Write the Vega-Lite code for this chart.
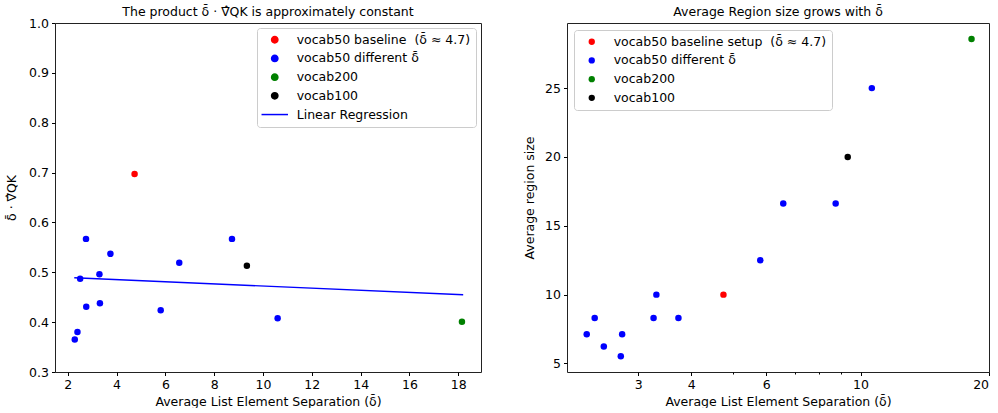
{
  "$schema": "https://vega.github.io/schema/vega-lite/v6.json",
  "padding": {"left": 5, "top": 5, "right": 0, "bottom": 0},
  "spacing": 86,
  "bounds": "flush",
  "config": {
    "font": "DejaVu Sans",
    "view": {"stroke": "#222", "strokeWidth": 1},
    "axis": {"domain": false, "grid": false, "tickColor": "#000", "tickSize": 3.5, "labelColor": "#000", "labelFontSize": 12.5, "titleFontSize": 12.5, "titleFontWeight": "normal", "titleColor": "#000", "labelPadding": 3},
    "title": {"fontSize": 12.5, "fontWeight": "normal", "color": "#000"},
    "legend": {"labelFontSize": 12.5, "labelColor": "#000", "labelLimit": 400, "strokeColor": "#ccc", "fillColor": "white", "cornerRadius": 3, "padding": 5.5, "rowPadding": 5.7, "symbolSize": 40, "symbolOffset": 6, "labelOffset": 15.7, "symbolStrokeWidth": 1.5}
  },
  "datasets": {
    "left": [
      {"x": 2.29, "y": 0.365, "group": "vocab50 different δ̄"},
      {"x": 2.40, "y": 0.380, "group": "vocab50 different δ̄"},
      {"x": 2.51, "y": 0.487, "group": "vocab50 different δ̄"},
      {"x": 2.75, "y": 0.567, "group": "vocab50 different δ̄"},
      {"x": 2.76, "y": 0.431, "group": "vocab50 different δ̄"},
      {"x": 3.30, "y": 0.496, "group": "vocab50 different δ̄"},
      {"x": 3.32, "y": 0.438, "group": "vocab50 different δ̄"},
      {"x": 3.75, "y": 0.537, "group": "vocab50 different δ̄"},
      {"x": 5.81, "y": 0.424, "group": "vocab50 different δ̄"},
      {"x": 6.57, "y": 0.519, "group": "vocab50 different δ̄"},
      {"x": 8.73, "y": 0.567, "group": "vocab50 different δ̄"},
      {"x": 10.6, "y": 0.408, "group": "vocab50 different δ̄"},
      {"x": 4.74, "y": 0.697, "group": "vocab50 baseline \u00a0(δ̄ ≈ 4.7)"},
      {"x": 9.34, "y": 0.513, "group": "vocab100"},
      {"x": 18.15, "y": 0.401, "group": "vocab200"}
    ],
    "regr": [
      {"x": 2.27, "y": 0.489, "group": "Linear Regression"},
      {"x": 18.2, "y": 0.455, "group": "Linear Regression"}
    ],
    "right": [
      {"x": 2.27, "y": 7.13, "group": "vocab50 different δ̄"},
      {"x": 2.37, "y": 8.31, "group": "vocab50 different δ̄"},
      {"x": 2.49, "y": 6.23, "group": "vocab50 different δ̄"},
      {"x": 2.73, "y": 5.53, "group": "vocab50 different δ̄"},
      {"x": 2.75, "y": 7.13, "group": "vocab50 different δ̄"},
      {"x": 3.26, "y": 8.31, "group": "vocab50 different δ̄"},
      {"x": 3.31, "y": 10.0, "group": "vocab50 different δ̄"},
      {"x": 3.73, "y": 8.31, "group": "vocab50 different δ̄"},
      {"x": 5.81, "y": 12.49, "group": "vocab50 different δ̄"},
      {"x": 6.58, "y": 16.62, "group": "vocab50 different δ̄"},
      {"x": 8.74, "y": 16.62, "group": "vocab50 different δ̄"},
      {"x": 10.63, "y": 25.0, "group": "vocab50 different δ̄"},
      {"x": 4.76, "y": 10.0, "group": "vocab50 baseline setup \u00a0(δ̄ ≈ 4.7)"},
      {"x": 9.33, "y": 20.0, "group": "vocab100"},
      {"x": 18.24, "y": 28.57, "group": "vocab200"}
    ]
  },
  "resolve": {"scale": {"fill": "independent", "stroke": "independent", "shape": "independent"}, "legend": {"fill": "independent", "stroke": "independent", "shape": "independent"}},
  "hconcat": [
    {
      "width": 426,
      "height": 349,
      "title": {"text": "The product δ̄ · ∇̂QK is approximately constant", "offset": -1},
      "encoding": {
        "x": {"field": "x", "type": "quantitative", "scale": {"domain": [1.48, 18.93], "nice": false, "zero": false}, "axis": {"values": [2, 4, 6, 8, 10, 12, 14, 16, 18], "title": "Average List Element Separation (δ̄)"}},
        "y": {"field": "y", "type": "quantitative", "scale": {"domain": [0.3, 1.0], "nice": false, "zero": false}, "axis": {"values": [0.3, 0.4, 0.5, 0.6, 0.7, 0.8, 0.9, 1.0], "format": ".1f", "title": "δ̄ · ∇̂QK", "titlePadding": 10}}
      },
      "layer": [
        {
          "data": {"name": "regr"},
          "mark": {"type": "line", "strokeWidth": 1.4},
          "encoding": {
            "stroke": {"field": "group", "type": "nominal", "scale": {"domain": ["vocab50 baseline \u00a0(δ̄ ≈ 4.7)", "vocab50 different δ̄", "vocab200", "vocab100", "Linear Regression"], "range": ["#ff0000", "#0000ff", "#008000", "#000000", "#0000ff"]}, "legend": {"title": null, "orient": "top-right", "offset": 5, "encode": {"symbols": {"update": {"size": {"signal": "datum.value === 'Linear Regression' ? 700 : 40"}}}}}}
          }
        },
        {
          "data": {"name": "left"},
          "mark": {"type": "point", "filled": true, "opacity": 1, "size": 42},
          "encoding": {
            "fill": {"field": "group", "type": "nominal", "scale": {"domain": ["vocab50 baseline \u00a0(δ̄ ≈ 4.7)", "vocab50 different δ̄", "vocab200", "vocab100", "Linear Regression"], "range": ["#ff0000", "#0000ff", "#008000", "#000000", "#0000ff"]}, "legend": {"title": null, "orient": "top-right", "offset": 5, "encode": {"symbols": {"update": {"size": {"signal": "datum.value === 'Linear Regression' ? 700 : 40"}}}}}},
            "shape": {"field": "group", "type": "nominal", "scale": {"domain": ["vocab50 baseline \u00a0(δ̄ ≈ 4.7)", "vocab50 different δ̄", "vocab200", "vocab100", "Linear Regression"], "range": ["circle", "circle", "circle", "circle", "stroke"]}, "legend": {"title": null, "orient": "top-right", "offset": 5, "encode": {"symbols": {"update": {"size": {"signal": "datum.value === 'Linear Regression' ? 700 : 40"}}}}}}
          }
        }
      ]
    },
    {
      "width": 422,
      "height": 349,
      "title": {"text": "Average Region size grows with δ̄", "offset": 5},
      "data": {"name": "right"},
      "mark": {"type": "point", "filled": true, "opacity": 1, "size": 42},
      "encoding": {
        "x": {"field": "x", "type": "quantitative", "scale": {"type": "log", "domain": [2.04, 20.05], "nice": false, "zero": false}, "axis": {"values": [3, 4, 5, 6, 7, 8, 9, 10, 20], "labelExpr": "indexof([3,4,6,10,20], datum.value) >= 0 ? datum.label : ''", "tickSize": {"condition": {"test": "indexof([5,7,8,9], datum.value) >= 0", "value": 2}, "value": 3.5}, "title": "Average List Element Separation (δ̄)"}},
        "y": {"field": "y", "type": "quantitative", "scale": {"domain": [4.38, 29.73], "nice": false, "zero": false}, "axis": {"values": [5, 10, 15, 20, 25], "title": "Average region size", "titlePadding": 8}},
        "fill": {"field": "group", "type": "nominal", "scale": {"domain": ["vocab50 baseline setup \u00a0(δ̄ ≈ 4.7)", "vocab50 different δ̄", "vocab200", "vocab100"], "range": ["#ff0000", "#0000ff", "#008000", "#000000"]}, "legend": {"title": null, "orient": "top-left", "offset": 6.5}}
      }
    }
  ]
}
